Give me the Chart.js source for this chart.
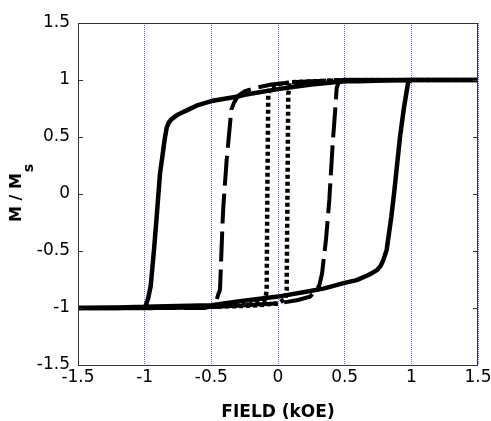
<!DOCTYPE html>
<html>
<head>
<meta charset="utf-8">
<script src="https://cdn.jsdelivr.net/npm/chart.js@4/dist/chart.umd.min.js"></script>
<style>
  html, body { margin: 0; padding: 0; background: #fff; }
  #wrap { width: 491px; height: 421px; position: relative; }
</style>
</head>
<body>
<div id="wrap"><canvas id="c"></canvas></div>
<script>
// ---- Data ----
const xTicks = [-1.5, -1, -0.5, 0, 0.5, 1, 1.5];
const xTickLabels = ['-1.5', '-1', '-0.5', '0', '0.5', '1', '1.5'];
const yTicks = [-1.5, -1, -0.5, 0, 0.5, 1, 1.5];
const yTickLabels = ['-1.5', '-1', '-0.5', '0', '0.5', '1', '1.5'];
const xTitle = 'FIELD (kOE)';
const yTitleMain = 'M / M';
const yTitleSub = 's';

// solid loop (largest coercivity)
const solidX = [1.5, 1.3, 1.1, 1.0, 0.8, 0.6, 0.5, 0.25, 0.0, -0.25, -0.3, -0.5, -0.6, -0.7, -0.76, -0.8, -0.82, -0.835, -0.85, -0.86, -0.885, -0.91, -0.93, -0.955, -0.975, -0.99, -1.0, -1.2, -1.5,
                -1.5, -1.2, -1.0, -0.5, -0.285, 0.0, 0.21, 0.34, 0.5, 0.59, 0.67, 0.71, 0.745, 0.77, 0.79, 0.815, 0.85, 0.87, 0.915, 0.945, 0.977, 1.0, 1.2, 1.5];
const solidY = [1.0, 1.0, 1.0, 1.0, 0.995, 0.99, 0.99, 0.96, 0.92, 0.87, 0.855, 0.815, 0.78, 0.725, 0.69, 0.655, 0.625, 0.58, 0.48, 0.39, 0.18, -0.2, -0.49, -0.81, -0.92, -0.97, -0.99, -1.0, -1.0,
                -1.0, -0.995, -0.99, -0.975, -0.94, -0.9, -0.857, -0.83, -0.78, -0.755, -0.715, -0.69, -0.665, -0.63, -0.58, -0.49, -0.2, 0.0, 0.5, 0.76, 0.985, 1.0, 1.0, 1.0];

// dashed loop (intermediate coercivity)
const dashedX = [1.5, 1.0, 0.5, 0.1, -0.05, -0.17, -0.25, -0.3, -0.33, -0.35, -0.385, -0.41, -0.415, -0.435, -0.448, -0.47, -0.55, -1.0, -1.5,
                 -1.5, -1.0, -0.5, 0.0, 0.15, 0.24, 0.29, 0.31, 0.33, 0.34, 0.36, 0.385, 0.41, 0.43, 0.44, 0.455, 0.5, 1.0, 1.5];
const dashedY = [1.0, 1.0, 1.0, 0.98, 0.96, 0.93, 0.9, 0.86, 0.8, 0.74, 0.3, -0.11, -0.23, -0.84, -0.88, -0.97, -1.0, -1.0, -1.0,
                 -1.0, -1.0, -0.99, -0.96, -0.93, -0.9, -0.84, -0.8, -0.7, -0.6, -0.4, -0.05, 0.44, 0.75, 0.93, 0.98, 1.0, 1.0, 1.0];

// dotted loop (smallest coercivity)
const dottedX = [1.5, 1.0, 0.5, 0.1, 0.0, -0.06, -0.073, -0.08, -0.085, -0.1, -0.2, -0.5, -1.0, -1.5,
                 -1.5, -1.0, -0.5, -0.2, 0.0, 0.055, 0.065, 0.071, 0.077, 0.09, 0.2, 0.5, 1.0, 1.5];
const dottedY = [1.0, 1.0, 1.0, 0.98, 0.96, 0.93, 0.87, 0.0, -0.857, -0.93, -0.97, -0.99, -1.0, -1.0,
                 -1.0, -1.0, -0.99, -0.98, -0.96, -0.92, -0.84, 0.0, 0.88, 0.95, 0.98, 1.0, 1.0, 1.0];

function pts(xs, ys) { return xs.map((x, i) => ({ x: x, y: ys[i] })); }

const FONT = 'DejaVu Sans';

const framePlugin = {
  id: 'frame',
  afterDraw(chart) {
    const { ctx, chartArea: a } = chart;
    const ys = chart.scales.y;
    ctx.save();
    ctx.strokeStyle = '#333';
    ctx.lineWidth = 1;
    ctx.strokeRect(a.left + 0.5, a.top + 0.5, a.right - a.left - 1, a.bottom - a.top);
    // inward tick marks on left and right
    ctx.beginPath();
    yTicks.forEach(v => {
      const p = Math.round(ys.getPixelForValue(v)) + 0.5;
      ctx.moveTo(a.left, p); ctx.lineTo(a.left + 5, p);
      ctx.moveTo(a.right, p); ctx.lineTo(a.right - 5, p);
    });
    ctx.stroke();
    // y-axis title with subscript
    ctx.fillStyle = '#000';
    ctx.translate(21, (a.top + a.bottom) / 2 + 28);
    ctx.rotate(-Math.PI / 2);
    ctx.font = 'bold 16px "' + FONT + '"';
    ctx.textBaseline = 'alphabetic';
    ctx.textAlign = 'left';
    ctx.fillText(yTitleMain, 0, 0);
    const w = ctx.measureText(yTitleMain).width;
    ctx.font = 'bold 14px "' + FONT + '"';
    ctx.fillText(yTitleSub, w + 1, 12);
    ctx.restore();
  }
};

new Chart(document.getElementById('c'), {
  type: 'scatter',
  data: {
    datasets: [
      { label: 'dotted', data: pts(dottedX, dottedY), showLine: true, borderColor: '#000', borderWidth: 4.5, borderDash: [4, 3], pointRadius: 0, fill: false, tension: 0 },
      { label: 'dashed', data: pts(dashedX, dashedY), showLine: true, borderColor: '#000', borderWidth: 4, borderDash: [30, 8], pointRadius: 0, fill: false, tension: 0 },
      { label: 'solid', data: pts(solidX, solidY), showLine: true, borderColor: '#000', borderWidth: 4.5, borderJoinStyle: 'round', pointRadius: 0, fill: false, tension: 0 }
    ]
  },
  options: {
    responsive: true,
    maintainAspectRatio: false,
    animation: false,
    devicePixelRatio: 1,
    layout: { padding: { left: 0, top: 23, right: 13, bottom: 0 } },
    plugins: { legend: { display: false }, tooltip: { enabled: false } },
    scales: {
      x: {
        type: 'linear', min: -1.5, max: 1.5,
        afterBuildTicks: s => { s.ticks = xTicks.map(v => ({ value: v })); },
        afterFit: s => { s.height = 56; s.paddingLeft = 0; s.paddingRight = 0; },
        ticks: {
          autoSkip: false, maxRotation: 0, padding: 2, color: '#000',
          font: { family: FONT, size: 17 },
          callback: v => { const i = xTicks.indexOf(v); return i >= 0 ? xTickLabels[i] : ''; }
        },
        grid: { display: true, drawTicks: false, color: 'rgb(100,100,255)', lineWidth: 1 },
        border: { display: false, dash: [1, 1] },
        title: { display: true, text: xTitle, color: '#000', font: { family: FONT, size: 17, weight: 'bold' }, padding: { top: 0, bottom: -2 } }
      },
      y: {
        type: 'linear', min: -1.5, max: 1.5,
        afterBuildTicks: s => { s.ticks = yTicks.map(v => ({ value: v })); },
        afterFit: s => { s.width = 78; s.paddingTop = 0; s.paddingBottom = 0; },
        ticks: {
          autoSkip: false, padding: 8, color: '#000',
          font: { family: FONT, size: 17 },
          callback: v => { const i = yTicks.indexOf(v); return i >= 0 ? yTickLabels[i] : ''; }
        },
        grid: { display: false, drawTicks: false },
        border: { display: false }
      }
    }
  },
  plugins: [framePlugin]
});
</script>
</body>
</html>
